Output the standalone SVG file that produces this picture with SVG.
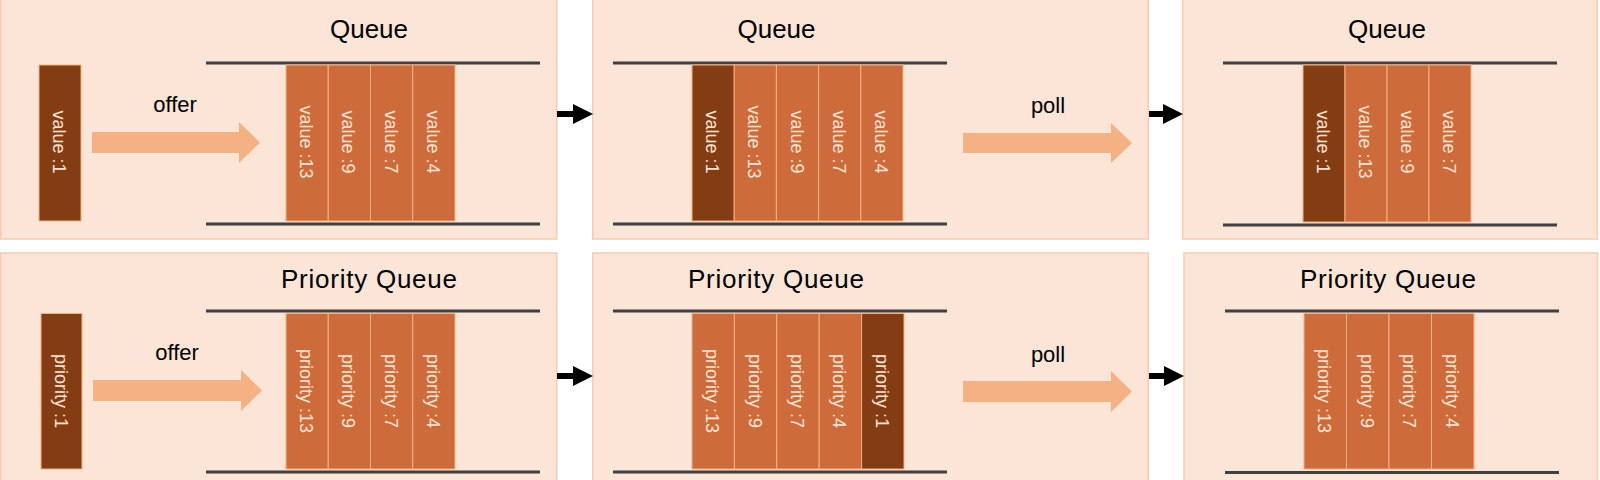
<svg xmlns="http://www.w3.org/2000/svg" width="1600" height="480" viewBox="0 0 1600 480">
<defs>
<style>
.bg{fill:#fff}
.panel{fill:#FBE5D6;stroke:#F8CBAD;stroke-width:1.5}
.rail{stroke:#3F3F3F;stroke-width:3}
.cell{fill:#CD6C3A;stroke:#F4B183;stroke-width:1}
.dark{fill:#843C12;stroke:#F4B183;stroke-width:1}
.ctext{font-family:"Liberation Sans",Arial,sans-serif;font-size:18px;fill:#FBE5D6;text-anchor:middle}
.title{font-family:"Liberation Sans",Arial,sans-serif;font-size:26px;fill:#000;text-anchor:middle}
.op{font-family:"Liberation Sans",Arial,sans-serif;font-size:22px;fill:#000;text-anchor:middle}
.blk{fill:#F4B183}
.conn{stroke:#000;stroke-width:6;fill:none}
</style>
<marker id="ah" viewBox="0 0 20 20" refX="0" refY="10" markerWidth="20" markerHeight="20" markerUnits="userSpaceOnUse" orient="auto">
<path d="M0,0 L20,10 L0,20 Z" fill="#000"/>
</marker>
</defs>
<rect class="bg" x="0" y="0" width="1600" height="480"/>

<g id="queue-offer">
<rect class="panel" x="0.75" y="-5" width="556" height="244"/>
<text class="title" x="369" y="38">Queue</text>
<rect class="dark" x="39" y="65" width="42" height="156"/>
<text class="ctext" transform="translate(60,142) rotate(90)" y="7">value :1</text>
<text class="op" x="175" y="112">offer</text>
<polygon class="blk" points="92,132 239,132 239,122 260,142.5 239,163 239,153 92,153"/>
<line class="rail" x1="206" y1="63" x2="540" y2="63"/>
<line class="rail" x1="206" y1="224" x2="540" y2="224"/>
<rect class="cell" x="286" y="65" width="42.25" height="156"/>
<rect class="cell" x="328.25" y="65" width="42.25" height="156"/>
<rect class="cell" x="370.5" y="65" width="42.25" height="156"/>
<rect class="cell" x="412.75" y="65" width="42.25" height="156"/>
<text class="ctext" transform="translate(307,142) rotate(90)" y="7">value :13</text>
<text class="ctext" transform="translate(349.4,142) rotate(90)" y="7">value :9</text>
<text class="ctext" transform="translate(391.6,142) rotate(90)" y="7">value :7</text>
<text class="ctext" transform="translate(433.9,142) rotate(90)" y="7">value :4</text>
</g>

<g id="queue-after-offer">
<rect class="panel" x="592.75" y="-5" width="555.5" height="244"/>
<text class="title" x="776.5" y="38">Queue</text>
<line class="rail" x1="613" y1="63" x2="947" y2="63"/>
<line class="rail" x1="613" y1="224" x2="947" y2="224"/>
<rect class="dark" x="692" y="65" width="42.2" height="156"/>
<rect class="cell" x="734.2" y="65" width="42.2" height="156"/>
<rect class="cell" x="776.4" y="65" width="42.2" height="156"/>
<rect class="cell" x="818.6" y="65" width="42.2" height="156"/>
<rect class="cell" x="860.8" y="65" width="42.2" height="156"/>
<text class="ctext" transform="translate(713.1,142) rotate(90)" y="7">value :1</text>
<text class="ctext" transform="translate(755.3,142) rotate(90)" y="7">value :13</text>
<text class="ctext" transform="translate(797.5,142) rotate(90)" y="7">value :9</text>
<text class="ctext" transform="translate(839.7,142) rotate(90)" y="7">value :7</text>
<text class="ctext" transform="translate(881.9,142) rotate(90)" y="7">value :4</text>
<text class="op" x="1048" y="113">poll</text>
<polygon class="blk" points="963,133 1111,133 1111,123 1132,143 1111,163 1111,153 963,153"/>
</g>

<g id="queue-after-poll">
<rect class="panel" x="1182.75" y="-5" width="414.5" height="244"/>
<text class="title" x="1387" y="38">Queue</text>
<line class="rail" x1="1223" y1="63" x2="1557" y2="63"/>
<line class="rail" x1="1223" y1="225" x2="1557" y2="225"/>
<rect class="dark" x="1303" y="65" width="42" height="157"/>
<rect class="cell" x="1345" y="65" width="42" height="157"/>
<rect class="cell" x="1387" y="65" width="42" height="157"/>
<rect class="cell" x="1429" y="65" width="42" height="157"/>
<text class="ctext" transform="translate(1324,142) rotate(90)" y="7">value :1</text>
<text class="ctext" transform="translate(1366,142) rotate(90)" y="7">value :13</text>
<text class="ctext" transform="translate(1408,142) rotate(90)" y="7">value :9</text>
<text class="ctext" transform="translate(1450,142) rotate(90)" y="7">value :7</text>
</g>

<g id="pq-offer">
<rect class="panel" x="0.75" y="253" width="556" height="244"/>
<text class="title" x="369" y="288" textLength="176" lengthAdjust="spacing">Priority Queue</text>
<rect class="dark" x="41" y="313.5" width="41" height="155.5"/>
<text class="ctext" transform="translate(61.5,391) rotate(90)" y="7">priority :1</text>
<text class="op" x="177" y="360">offer</text>
<polygon class="blk" points="93,380 241,380 241,370 262,390.5 241,411 241,401 93,401"/>
<line class="rail" x1="206" y1="311" x2="540" y2="311"/>
<line class="rail" x1="206" y1="472" x2="540" y2="472"/>
<rect class="cell" x="286" y="313.5" width="42.25" height="155.5"/>
<rect class="cell" x="328.25" y="313.5" width="42.25" height="155.5"/>
<rect class="cell" x="370.5" y="313.5" width="42.25" height="155.5"/>
<rect class="cell" x="412.75" y="313.5" width="42.25" height="155.5"/>
<text class="ctext" transform="translate(307,391) rotate(90)" y="7">priority :13</text>
<text class="ctext" transform="translate(349.4,391) rotate(90)" y="7">priority :9</text>
<text class="ctext" transform="translate(391.6,391) rotate(90)" y="7">priority :7</text>
<text class="ctext" transform="translate(433.9,391) rotate(90)" y="7">priority :4</text>
</g>

<g id="pq-after-offer">
<rect class="panel" x="592.75" y="253" width="555.5" height="244"/>
<text class="title" x="776" y="288" textLength="176" lengthAdjust="spacing">Priority Queue</text>
<line class="rail" x1="613" y1="311" x2="947" y2="311"/>
<line class="rail" x1="613" y1="472" x2="947" y2="472"/>
<rect class="cell" x="692" y="313.5" width="42.4" height="155.5"/>
<rect class="cell" x="734.4" y="313.5" width="42.4" height="155.5"/>
<rect class="cell" x="776.8" y="313.5" width="42.4" height="155.5"/>
<rect class="cell" x="819.2" y="313.5" width="42.4" height="155.5"/>
<rect class="dark" x="861.6" y="313.5" width="42.4" height="155.5"/>
<text class="ctext" transform="translate(713.2,391) rotate(90)" y="7">priority :13</text>
<text class="ctext" transform="translate(755.6,391) rotate(90)" y="7">priority :9</text>
<text class="ctext" transform="translate(798,391) rotate(90)" y="7">priority :7</text>
<text class="ctext" transform="translate(840.4,391) rotate(90)" y="7">priority :4</text>
<text class="ctext" transform="translate(882.8,391) rotate(90)" y="7">priority :1</text>
<text class="op" x="1048" y="362">poll</text>
<polygon class="blk" points="963,381 1111,381 1111,371 1132,391.5 1111,412 1111,402 963,402"/>
</g>

<g id="pq-after-poll">
<rect class="panel" x="1184" y="253" width="413.5" height="244"/>
<text class="title" x="1388" y="288" textLength="176" lengthAdjust="spacing">Priority Queue</text>
<line class="rail" x1="1225" y1="311" x2="1559" y2="311"/>
<line class="rail" x1="1225" y1="472.5" x2="1559" y2="472.5"/>
<rect class="cell" x="1304" y="313.5" width="42.5" height="155.5"/>
<rect class="cell" x="1346.5" y="313.5" width="42.5" height="155.5"/>
<rect class="cell" x="1389" y="313.5" width="42.5" height="155.5"/>
<rect class="cell" x="1431.5" y="313.5" width="42.5" height="155.5"/>
<text class="ctext" transform="translate(1325.2,391) rotate(90)" y="7">priority :13</text>
<text class="ctext" transform="translate(1367.7,391) rotate(90)" y="7">priority :9</text>
<text class="ctext" transform="translate(1410.2,391) rotate(90)" y="7">priority :7</text>
<text class="ctext" transform="translate(1452.7,391) rotate(90)" y="7">priority :4</text>
</g>

<g id="connectors">
<line class="conn" x1="557" y1="114" x2="573" y2="114" marker-end="url(#ah)"/>
<line class="conn" x1="1149" y1="114" x2="1163" y2="114" marker-end="url(#ah)"/>
<line class="conn" x1="557" y1="376" x2="573" y2="376" marker-end="url(#ah)"/>
<line class="conn" x1="1149" y1="376" x2="1164" y2="376" marker-end="url(#ah)"/>
</g>
</svg>
